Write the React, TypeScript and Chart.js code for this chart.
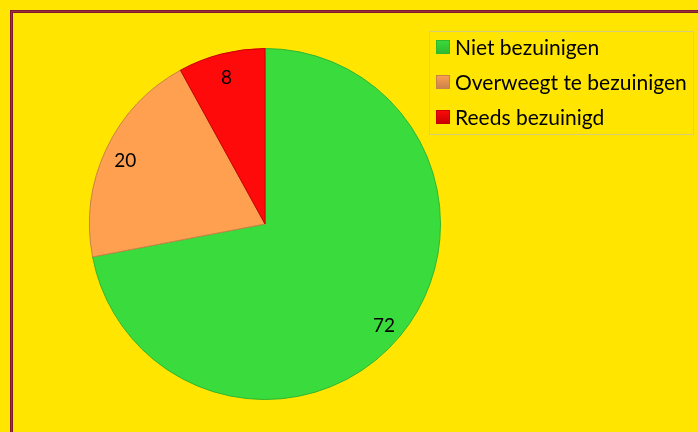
import React, { useEffect, useRef } from "react";
import { Chart, registerables } from "chart.js";

Chart.register(...registerables);

const categories = ["Niet bezuinigen", "Overweegt te bezuinigen", "Reeds bezuinigd"];
const values = [72, 20, 8];
const colors = ["#3ADB3C", "#FFA050", "#FF0A0A"];
const edgeColors = ["#2FB82F", "#C8824A", "#C80000"];

const FONT = "Lato, 'Open Sans', sans-serif";

const framePlugin = {
  id: "frame",
  beforeDraw(chart: any) {
    const ctx = chart.ctx;
    ctx.save();
    ctx.fillStyle = "#FFE500";
    ctx.fillRect(0, 0, chart.width, chart.height);
    ctx.strokeStyle = "#7E1A2C";
    ctx.lineWidth = 3;
    ctx.strokeRect(11.5, 11.5, chart.width + 20, chart.height + 20);
    ctx.strokeStyle = "#9A3040";
    ctx.lineWidth = 1;
    ctx.strokeRect(11.5, 11.5, chart.width + 20, chart.height + 20);
    ctx.restore();
  },
  afterDraw(chart: any) {
    const ctx = chart.ctx;
    const meta = chart.getDatasetMeta(0);
    ctx.save();
    // value labels
    ctx.fillStyle = "#000";
    ctx.font = `19px ${FONT}`;
    ctx.textAlign = "center";
    ctx.textBaseline = "middle";
    meta.data.forEach((arc: any, i: number) => {
      const p = arc.getProps(["x", "y", "startAngle", "endAngle", "outerRadius"], true);
      const mid = (p.startAngle + p.endAngle) / 2;
      const r = p.outerRadius * 0.88;
      ctx.fillText(String(chart.data.datasets[0].data[i]), p.x + Math.cos(mid) * r, p.y + Math.sin(mid) * r + 3);
    });
    // legend
    const lx = 429.5, ly = 31.5, lw = 264, lh = 103;
    ctx.strokeStyle = "#D8CC80";
    ctx.lineWidth = 1;
    ctx.strokeRect(lx, ly, lw, lh);
    ctx.font = `21px ${FONT}`;
    ctx.textAlign = "left";
    const labels = chart.data.labels as string[];
    labels.forEach((lab, i) => {
      const cy = 47 + i * 35;
      const g = ctx.createLinearGradient(0, cy - 7, 0, cy + 7);
      g.addColorStop(0, colors[i]);
      g.addColorStop(1, edgeColors[i]);
      ctx.fillStyle = g;
      ctx.fillRect(436, cy - 7, 14, 14);
      ctx.strokeStyle = edgeColors[i];
      ctx.strokeRect(436.5, cy - 6.5, 13, 13);
      ctx.fillStyle = "#000";
      ctx.fillText(lab, 455, cy + 1);
    });
    ctx.restore();
  },
};

export default function App() {
  const ref = useRef<HTMLCanvasElement>(null);
  useEffect(() => {
    const chart = new Chart(ref.current!, {
      type: "pie",
      data: {
        labels: categories,
        datasets: [
          {
            data: values,
            backgroundColor: colors,
            borderColor: edgeColors,
            borderWidth: 1,
          },
        ],
      },
      options: {
        animation: false,
        responsive: false,
        layout: { padding: { left: 89, top: 48, right: 257, bottom: 32 } },
        plugins: { legend: { display: false }, tooltip: { enabled: false } },
      },
      plugins: [framePlugin],
    });
    return () => chart.destroy();
  }, []);
  return (
    <div style={{ position: "fixed", left: 0, top: 0, width: 698, height: 432 }}>
      <canvas ref={ref} width={698} height={432} style={{ display: "block" }} />
    </div>
  );
}
